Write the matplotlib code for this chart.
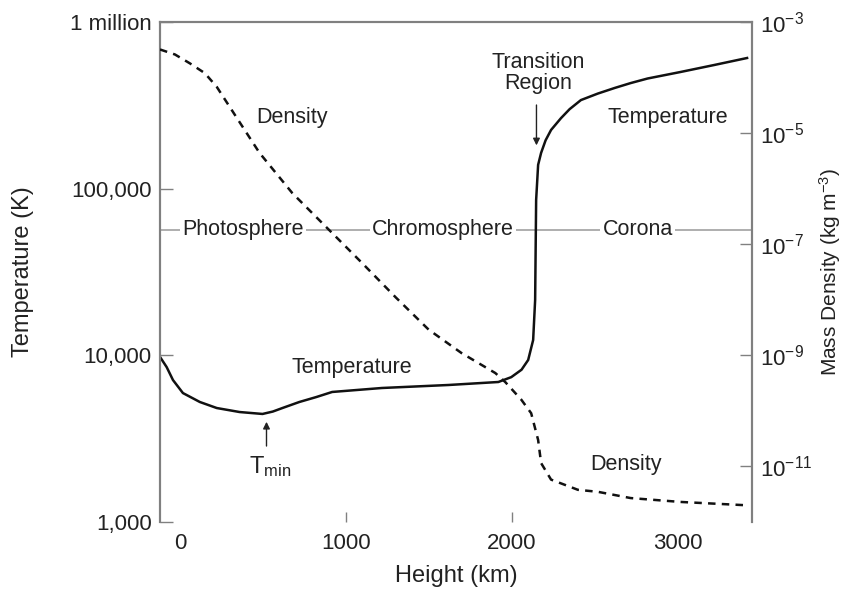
import numpy as np
import matplotlib
matplotlib.use('Agg')
import matplotlib.pyplot as plt
from matplotlib import rc

rc('font', **{'family': 'sans-serif', 'sans-serif': ['Liberation Sans', 'DejaVu Sans'], 'size': 15.5})
rc('mathtext', default='regular')

# temperature profile, height in km, T in K
height_T = [-120, -80, -42, 18, 120, 222, 360, 498, 560, 618, 720, 822, 918, 1218, 1620,
            1920, 1998, 2060, 2100, 2130, 2142, 2145, 2148, 2160, 2178, 2205, 2238, 2298,
            2350, 2418, 2520, 2622, 2718, 2820, 3018, 3222, 3420]
temp_K = [9780, 8500, 7110, 5940, 5250, 4830, 4570, 4450, 4600, 4830, 5250, 5620, 6030,
          6370, 6640, 6920, 7400, 8200, 9380, 12360, 21500, 42900, 85500, 139000, 164000,
          195000, 225000, 265000, 300000, 340000, 372000, 402000, 430000, 458000, 501000,
          552000, 608000]

# mass density profile, kg m^-3
height_rho = [-120, -30, 60, 150, 222, 342, 480, 678, 900, 1098, 1302, 1500, 1698, 1902,
              1962, 2058, 2118, 2160, 2178, 2238, 2400, 2520, 2718, 3018, 3420]
rho = [3.2e-4, 2.6e-4, 1.8e-4, 1.2e-4, 6.8e-5, 1.9e-5, 4.4e-6, 8.3e-7, 1.8e-7, 4.6e-8,
       1.1e-8, 2.9e-9, 1.1e-9, 4.8e-10, 3.3e-10, 1.6e-10, 9.1e-11, 3.0e-11, 1.15e-11,
       5.8e-12, 3.8e-12, 3.5e-12, 2.7e-12, 2.3e-12, 2.0e-12]

x_ticks = [0, 1000, 2000, 3000]
T_ticks = [1e3, 1e4, 1e5, 1e6]
T_labels = ['1,000', '10,000', '100,000', '1 million']
rho_ticks = [1e-11, 1e-9, 1e-7, 1e-5, 1e-3]
rho_labels = [r'$10^{-11}$', r'$10^{-9}$', r'$10^{-7}$', r'$10^{-5}$', r'$10^{-3}$']

layer_T = 56500
layers = ['Photosphere', 'Chromosphere', 'Corona']
layer_x = [380, 1584, 2760]

txt = '#222222'
spine_c = '#808080'

fig = plt.figure(figsize=(8.49, 5.99), dpi=100)
ax = fig.add_axes([0.1885, 0.1285, 0.6973, 0.8348])
ax2 = ax.twinx()

ax.set_xlim(-120, 3450)
ax.set_yscale('log')
ax.set_ylim(1e3, 1e6)
ax2.set_yscale('log')
ax2.set_ylim(1e-12, 1e-3)

ax.axhline(layer_T, color='#999999', lw=1.1, zorder=1)
for name, xx in zip(layers, layer_x):
    ax.text(xx, layer_T, name, ha='center', va='center', color=txt,
            bbox=dict(facecolor='white', edgecolor='none', pad=1.5), zorder=2)

ax.plot(height_T, temp_K, color='#111111', lw=1.8, zorder=4)
ax2.plot(height_rho, rho, color='#111111', lw=1.8, ls=(0, (3, 2.5)), zorder=4)

# annotations
ax.text(678, 269000, 'Density', ha='center', va='center', color=txt)
ax.text(2940, 269000, 'Temperature', ha='center', va='center', color=txt)
ax.text(2160, 494000, 'Transition\nRegion', ha='center', va='center', color=txt, linespacing=1.0)
ax.annotate('', xy=(2150, 175000), xytext=(2150, 330000),
            arrowprops=dict(arrowstyle='-|>', color='#222222', lw=1, mutation_scale=10))
ax.text(1038, 8400, 'Temperature', ha='center', va='center', color=txt)
ax.text(545, 2150, r'T$_{min}$', ha='center', va='center', color=txt, fontsize=17)
ax.annotate('', xy=(522, 4150), xytext=(522, 2750),
            arrowprops=dict(arrowstyle='-|>', color='#222222', lw=1, mutation_scale=10))
ax.text(2688, 2200, 'Density', ha='center', va='center', color=txt)

# axes styling
for a in (ax, ax2):
    a.spines['bottom'].set_visible(False)
    for s in ('left', 'right', 'top'):
        a.spines[s].set_color(spine_c)
        a.spines[s].set_linewidth(1.5)

ax.set_xticks(x_ticks)
ax.tick_params(axis='x', direction='in', length=7, width=1, color=spine_c, pad=8,
               labelsize=16, labelcolor=txt)
for i, t in enumerate(ax.xaxis.get_major_ticks()):
    if x_ticks[i] in (0, 3000):
        t.tick1line.set_visible(False)

ax.set_yticks(T_ticks)
ax.set_yticklabels(T_labels)
ax.yaxis.set_minor_locator(matplotlib.ticker.NullLocator())
ax.tick_params(axis='y', direction='in', length=9, width=1, color=spine_c, pad=6,
               labelsize=16, labelcolor=txt)

ax2.set_yticks(rho_ticks)
ax2.set_yticklabels(rho_labels)
ax2.yaxis.set_minor_locator(matplotlib.ticker.NullLocator())
ax2.tick_params(axis='y', direction='in', length=9, width=1, color=spine_c, pad=6,
                labelsize=16, labelcolor=txt)

ax.set_xlabel('Height (km)', color=txt, fontsize=17, labelpad=8)
ax.set_ylabel('Temperature (K)', color=txt, fontsize=17, labelpad=26)
ax2.set_ylabel(r'Mass Density (kg m$^{-3}$)', color=txt, fontsize=15, rotation=90, labelpad=3)

fig.savefig('out.png', dpi=100)
